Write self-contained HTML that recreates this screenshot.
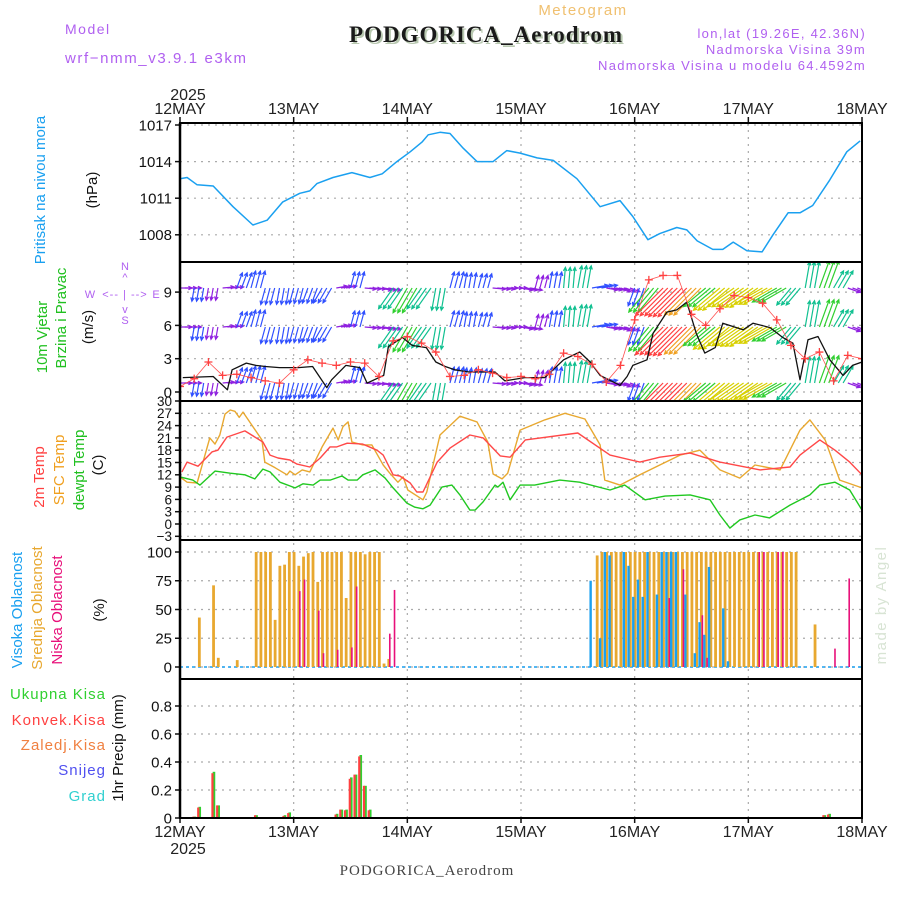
<!DOCTYPE html>
<html><head><meta charset="utf-8"><style>
html,body{margin:0;padding:0;background:#fff;}
svg{display:block;font-family:"Liberation Sans",sans-serif;}
</style></head><body>
<svg id="chart" width="900" height="900" viewBox="0 0 900 900" xmlns="http://www.w3.org/2000/svg">
<rect x="0" y="0" width="900" height="900" fill="#fff"/>
<text x="65" y="34" fill="#b060f0" font-size="14" letter-spacing="1.5">Model</text>
<text x="65" y="63" fill="#b060f0" font-size="15" letter-spacing="1.6">wrf−nmm_v3.9.1 e3km</text>
<text x="583" y="15" fill="#f0c070" font-size="15" letter-spacing="1.5" text-anchor="middle">Meteogram</text>
<text x="488" y="44" fill="#b8c8b0" font-size="23" font-weight="bold" font-family="Liberation Serif,serif" text-anchor="middle" letter-spacing="1">PODGORICA_Aerodrom</text>
<text x="486" y="42" fill="#1a1a1a" font-size="23" font-weight="bold" font-family="Liberation Serif,serif" text-anchor="middle" letter-spacing="1">PODGORICA_Aerodrom</text>
<text x="866" y="38" fill="#b060f0" font-size="13" letter-spacing="1.3" text-anchor="end">lon,lat (19.26E, 42.36N)</text>
<text x="866" y="54" fill="#b060f0" font-size="13" letter-spacing="1.3" text-anchor="end">Nadmorska Visina 39m</text>
<text x="866" y="70" fill="#b060f0" font-size="13" letter-spacing="1.3" text-anchor="end">Nadmorska Visina u modelu 64.4592m</text>
<text x="188" y="100" fill="#222" font-size="16" text-anchor="middle">2025</text>
<text x="188" y="854" fill="#222" font-size="16" text-anchor="middle">2025</text>
<text x="427" y="875" fill="#444" font-size="15" font-family="Liberation Serif,serif" text-anchor="middle" letter-spacing="1">PODGORICA_Aerodrom</text>
<text transform="translate(886,605) rotate(-90)" fill="#d8e4d4" font-size="15" text-anchor="middle" letter-spacing="1.5">made by Angel</text>

<text transform="translate(45,190) rotate(-90)" fill="#1aa0f0" font-size="15" text-anchor="middle">Pritisak na nivou mora</text>
<text transform="translate(97,190) rotate(-90)" fill="#111" font-size="15" text-anchor="middle">(hPa)</text>
<text transform="translate(47,337) rotate(-90)" fill="#20c020" font-size="15" text-anchor="middle">10m Vjetar</text>
<text transform="translate(66,318) rotate(-90)" fill="#20c020" font-size="15" text-anchor="middle">Brzina i Pravac</text>
<text transform="translate(93,327) rotate(-90)" fill="#111" font-size="15" text-anchor="middle">(m/s)</text>
<g fill="#b060f0" font-size="11">
<text x="125" y="270" text-anchor="middle">N</text><text x="125" y="281" text-anchor="middle">^</text>
<text x="90" y="298" text-anchor="middle">W</text><text x="125" y="298" text-anchor="middle" letter-spacing="1">&lt;-- | --&gt;</text><text x="156" y="298" text-anchor="middle">E</text>
<text x="125" y="313" text-anchor="middle">v</text><text x="125" y="324" text-anchor="middle">S</text>
</g>
<text transform="translate(44,477) rotate(-90)" fill="#ff4040" font-size="15" text-anchor="middle">2m Temp</text>
<text transform="translate(64,470) rotate(-90)" fill="#f0a020" font-size="15" text-anchor="middle">SFC Temp</text>
<text transform="translate(84,470) rotate(-90)" fill="#20c020" font-size="15" text-anchor="middle">dewpt Temp</text>
<text transform="translate(103,465) rotate(-90)" fill="#111" font-size="15" text-anchor="middle">(C)</text>
<text transform="translate(22,610) rotate(-90)" fill="#1aa0f0" font-size="15" text-anchor="middle">Visoka Oblacnost</text>
<text transform="translate(42,608) rotate(-90)" fill="#e8a830" font-size="15" text-anchor="middle">Srednja Oblacnost</text>
<text transform="translate(62,610) rotate(-90)" fill="#e8107a" font-size="15" text-anchor="middle">Niska Oblacnost</text>
<text transform="translate(104,610) rotate(-90)" fill="#111" font-size="15" text-anchor="middle">(%)</text>
<text transform="translate(123,748) rotate(-90)" fill="#111" font-size="15" text-anchor="middle">1hr Precip (mm)</text>
<g font-size="15" text-anchor="end" letter-spacing="1">
<text x="106" y="699" fill="#30d030">Ukupna Kisa</text>
<text x="106" y="725" fill="#ff4040">Konvek.Kisa</text>
<text x="106" y="750" fill="#f08040">Zaledj.Kisa</text>
<text x="106" y="775" fill="#5050f0">Snijeg</text>
<text x="106" y="801" fill="#30d0d0">Grad</text>
</g>
<g id="plot"></g>
</svg>
<script>
// ---------- data ----------
const dayLabels = ["12MAY","13MAY","14MAY","15MAY","16MAY","17MAY","18MAY"];
const presTicks = [1008,1011,1014,1017];
const windTicks = [0,3,6,9];
const tempTicks = [-3,0,3,6,9,12,15,18,21,24,27,30];
const cloudTicks = [0,25,50,75,100];
const precTicks = [0,0.2,0.4,0.6,0.8];

const presHours = [0,1.5,3.6,7,11.2,15.4,18.4,21.7,25.3,27.4,28.9,32.3,36.3,40.1,42.7,45.8,48.6,51.1,52.4,54.9,57,59.8,62.7,66.1,69,71.8,75.4,78.8,83.8,88.7,92.9,95.6,98.8,101.3,104.9,107,109.2,112.5,114.6,116.8,119.7,122.9,125.2,128.4,130.9,133.6,137.2,140.8,143.6];
const presVals = [1012.6,1012.7,1012.1,1012,1010.3,1008.8,1009.2,1010.7,1011.4,1011.6,1012.2,1012.7,1013.1,1012.7,1013.0,1014.0,1014.8,1015.6,1016.2,1016.4,1016.3,1015.1,1014,1014,1014.9,1014.7,1014.3,1014.1,1012.6,1010.3,1010.8,1009.5,1007.6,1008.1,1008.6,1008.4,1007.5,1006.8,1006.8,1007.4,1006.7,1006.6,1008,1009.8,1009.8,1010.4,1012.5,1014.8,1015.7];

const t2Hours = [0.4,1.5,3.8,6.8,8,9.9,13.7,17.5,19,20.7,23.2,24.7,27.4,29.6,31.7,33.1,35.3,38.6,41.6,42.9,45,46.4,48.6,50,51.3,54.3,57,61.2,64,67.6,69.7,72.9,84,90.8,97.1,101.3,107.7,114,122.5,128.8,130.9,135.1,138.3,141.4,144];
const t2Vals = [12.7,15.1,14.1,17.6,18,21.2,22.7,20,16.8,16.1,15.6,14.6,13.9,16.1,18.8,18.8,19.7,19.5,18,16.8,12,11.7,10,7.8,7.8,15.1,18.5,21.7,21,16.6,16.3,20.5,22.2,16.8,15.1,16.3,17.3,15.1,13.2,13.9,16.8,20.5,18,15.1,12];
const sfcHours = [0,1.5,3.6,6.3,7.4,8.4,9.5,10.6,11.6,12.5,13.3,17.3,17.9,20.1,22.6,23.2,24.3,25.8,27.4,30,32.3,33.4,34.4,35.5,36.3,38.6,40.5,42.9,44.3,46,47.1,48.1,51.3,52.1,54.9,59.1,62.7,65,66.1,68,69.2,71.8,77,81.3,85.5,88.7,89.7,92.9,97.1,101.3,105.6,109.8,114,118.2,121.4,126.7,130.9,133,136.2,139.3,144];
const sfcVals = [11.5,10.2,10,21,19.5,21.7,26.8,27.8,27.5,26,27.3,20.5,15.1,13.7,12,12.9,12,13.2,12.7,18.8,23.4,20.5,23.7,24.9,20,19.3,19.3,14.4,12.4,10.2,11.5,8.3,5.9,7.8,21.7,26.3,24.9,20,12.2,11,12.4,22.9,25.4,27,25.6,19.3,10.7,9.5,12,14.4,16.8,18,13.2,11.2,14.4,13.2,22.9,25.4,20.5,10.7,8.8];
const dewHours = [0,2.7,4.2,7.4,10.6,13.7,15.8,17.5,19,21.1,24.3,26,28.1,29.6,31.7,34.2,35.5,37.4,38.6,41.2,43.3,45,47.9,49.6,51.3,52.8,55.3,57.4,59.1,61.2,62.3,64,66.5,67.1,68.2,69.7,71.8,74.9,80.2,84.4,90.8,93.9,98.2,102.4,107.7,111.9,114,116.1,118.2,121.4,124.5,128.8,133,135.1,138.3,141.4,144];
const dewVals = [11.5,10.7,9.5,12.9,12.4,12,11,13.4,12.7,10.2,8.8,9.8,9.5,10.7,10.7,11.7,10.7,10.7,12,13.2,11.2,8.8,5.1,4.1,3.7,4.6,9,9.5,7.1,3.4,3.4,5.4,9.5,9,10.2,5.9,9.5,9.5,10.7,10.2,8.3,9.5,5.9,6.8,7.1,5.9,2.2,-1,1,2.2,1.5,4.6,7.1,9.5,10.2,8.3,3.4];

const wsHours = [0.6,7,10,11,14,16,18,21,25,28,31,32,35,38,39.5,43,44,47,49,52,54,56,58,61,66.5,68.6,72.8,77,81,84.4,86.6,88.7,92.9,94.4,95.6,98.6,99.9,102.8,104.9,107,109,110.8,113,114.6,118.9,121,124.6,127.3,129.4,130.9,132.6,134.7,137.2,140,142,144];
const wsVals = [1.3,1.4,0.2,2,2.6,2.4,2.3,2.2,2.2,2.3,0.4,1.1,2.4,2.2,0.8,1.5,4.1,4.9,4.2,4,2.7,2.3,2,1.8,1.8,1,1.3,1.3,2.9,3.6,2.7,1.5,0.6,1.4,2.4,2.9,5.3,7.2,7.4,8.1,5.3,3.5,4,6.2,5.6,6.2,5.8,4.9,4.4,1.1,4.7,5,2.9,1.5,2.4,2.7];
// 3-hourly gust, arrow direction (deg, pointing) and arrow speed
const gustVals = [0.5,1.2,2.7,1.5,1.6,1.3,1.0,0.8,2.0,2.9,2.6,2.4,2.7,2.6,1.4,4.6,5.0,4.4,3.6,1.4,1.5,2.0,1.7,1.3,1.4,1.2,1.6,3.5,3.2,2.5,0.9,2.4,6.5,10.1,10.5,10.5,7.0,6.0,7.5,8.7,8.5,8.0,6.5,4.2,3.0,3.6,1.0,3.3,3.0];
const arrowDir = [90,190,190,85,20,15,195,190,195,200,210,80,15,95,100,215,210,215,190,15,10,15,95,90,100,15,10,5,10,80,100,110,200,220,225,225,225,230,230,235,235,240,240,220,10,20,30,110,120];
const arrowSpd = [1.3,1.6,1.4,1.2,2.2,2.5,2.4,2.3,2.2,2.2,2.4,1.1,2.3,1.2,1.5,4.2,4.9,4.2,3.6,2.3,2.0,1.9,1.5,1.1,1.3,1.5,2.2,3.2,3.6,2.2,1.2,1.0,2.8,5.5,7.2,7.5,7.0,5.0,6.2,5.8,6.0,5.8,4.8,3.5,4.5,5.0,3.0,1.5,1.8];

const midHours = [4,7,8,12,16,17,18,19,20,21,22,23,24,25,26,27,28,29,30,31,32,33,34,35,36,37,38,39,40,41,42,43,44,88,89,90,91,92,93,94,95,96,97,98,99,100,101,102,103,104,105,106,107,108,109,110,111,112,113,114,115,116,117,118,119,120,121,122,123,124,125,126,127,128,129,130,134];
const midVals = [43,71,8,6,100,100,100,100,41,88,89,100,100,88,96,99,100,74,100,100,100,100,100,60,100,100,100,98,100,100,100,3,7,97,100,100,100,100,100,100,100,100,100,100,100,100,100,100,100,100,100,100,100,100,100,100,100,100,100,100,100,100,100,100,100,100,100,100,100,100,100,100,100,100,100,100,37];
const highHours = [87,89,90,91,94,95,96,97,98,99,101,102,103,104,105,107,109,110,111,112,115,116];
const highVals = [75,25,100,97,100,88,61,76,61,100,63,100,100,100,100,63,12,39,28,87,51,5];
const lowHours = [25,26,29,30,33,36,37,44,45,103,106,110,111,122,123,126,127,138,141];
const lowVals = [66,76,49,12,15,17,70,29,67,60,85,45,8,100,100,100,100,16,77];

const precHours = [3,4,7,8,16,22,23,33,34,35,36,37,38,39,40,136,137];
const precTotal = [0.01,0.08,0.33,0.09,0.02,0.02,0.04,0.03,0.06,0.06,0.29,0.31,0.45,0.23,0.06,0.02,0.03];
const precConv = [0.01,0.075,0.32,0.09,0.02,0.015,0.035,0.025,0.06,0.055,0.28,0.31,0.44,0.23,0.055,0.02,0.025];

// ---------- scales ----------
const X0 = 180, X1 = 862;
const xh = h => X0 + h * (X1 - X0) / 144;
const yP = p => 125 + (1017 - p) * 12.2;
const yW = v => 392 - v * 11.1;
const yT = t => 524 - t * 4.1;
const yC = c => 667 - c * 1.15;
const yR = r => 818 - r * 140;
const panels = [[123,262],[262,401],[401,540],[540,679],[679,818]];

const NS = "http://www.w3.org/2000/svg";
const plot = document.getElementById("plot");
function mk(tag, attrs, parent) {
  const e = document.createElementNS(NS, tag);
  for (const k in attrs) e.setAttribute(k, attrs[k]);
  (parent || plot).appendChild(e);
  return e;
}

const defs = mk("defs", {});
const cp = mk("clipPath", {id: "windClip"}, defs);
mk("rect", {x: X0, y: 263, width: X1 - X0, height: 137}, cp);

// grid
const grid = mk("g", {stroke: "#aaa", "stroke-width": 1.2, "stroke-dasharray": "2,5"});


for (let d = 1; d < 6; d++) {
  const gx = xh(d * 24);
  const v = mk("line", {x1: gx, x2: gx, y1: 123, y2: 818}, grid);
  
  
}
function hgrid(vals, f) {
  vals.forEach(v => {
    const l = mk("line", {x1: X0, x2: X1, y1: f(v), y2: f(v)}, grid);
    
    
  });
}
hgrid(presTicks, yP); hgrid(windTicks, yW); hgrid(tempTicks, yT); hgrid(cloudTicks, yC); hgrid(precTicks, yR);

function yticks(vals, f, fs, name) {
  vals.forEach(v => {
    const t = mk("text", {x: 172, y: f(v) + fs * 0.36, "text-anchor": "end", "font-size": fs, fill: "#111"});
    t.textContent = (name === 'precip' && v !== 0) ? v.toFixed(1) : (v < 0 ? "−" + (-v) : String(v));
    
    
    const tk = mk("line", {x1: 175, x2: 180, y1: f(v), y2: f(v), stroke: "#111", "stroke-width": 1.5});
    
    
  });
}
yticks(presTicks, yP, 15, 'pressure');
yticks(windTicks, yW, 15, 'wind');
yticks(tempTicks, yT, 13.5, 'temp');
yticks(cloudTicks, yC, 15, 'cloud');
yticks(precTicks, yR, 15, 'precip');

dayLabels.forEach((lab, i) => {
  const dx = xh(i * 24);
  const a = mk("text", {x: dx, y: 114, "text-anchor": "middle", "font-size": 16, fill: "#222"});
  a.textContent = lab;
  
  
  const b = mk("text", {x: dx, y: 837, "text-anchor": "middle", "font-size": 16, fill: "#222"});
  b.textContent = lab;
  
  
  const t1 = mk("line", {x1: dx, x2: dx, y1: 117, y2: 123, stroke: "#111", "stroke-width": 1.5});
  
  
  const t2 = mk("line", {x1: dx, x2: dx, y1: 818, y2: 823, stroke: "#111", "stroke-width": 1.5});
  
  
});

function line(hs, vs, f, color, name, w) {
  const pts = hs.map((h, i) => xh(h).toFixed(1) + "," + f(vs[i]).toFixed(1)).join(" ");
  const p = mk("polyline", {points: pts, fill: "none", stroke: color, "stroke-width": w || 1.4, "stroke-linejoin": "round"});
  
  
  return p;
}

line(presHours, presVals, yP, "#1aa0f0", "pressure-line", 1.5);

// wind arrows
const wg = mk("g", {"clip-path": "url(#windClip)"});


function wcolor(s) {
  if (s < 1.6) return "#9020e0";
  if (s < 3) return "#3050ff";
  if (s < 4.6) return "#10c090";
  if (s < 5.6) return "#30d030";
  if (s < 6.4) return "#d8d000";
  if (s < 7.2) return "#f0a020";
  return "#ff4040";
}
const rowBase = [288, 327, 383];
arrowDir.forEach((dir, i) => {
  const spd = arrowSpd[i];
  const L = 6 + spd * 4.6;
  const th = dir * Math.PI / 180;
  const c = wcolor(spd);
  for (let k = 0; k < 3; k++) {
    const h = i * 3 + k;
    if (h > 144) break;
    rowBase.forEach(by => {
      const x0 = xh(h), y0 = by;
      const x1 = x0 + L * Math.sin(th), y1 = y0 - L * Math.cos(th);
      const ha = 4;
      const a1 = th + Math.PI - 0.45, a2 = th + Math.PI + 0.45;
      const d = `M${x0.toFixed(1)},${y0}L${x1.toFixed(1)},${y1.toFixed(1)}M${(x1 + ha * Math.sin(a1)).toFixed(1)},${(y1 - ha * Math.cos(a1)).toFixed(1)}L${x1.toFixed(1)},${y1.toFixed(1)}L${(x1 + ha * Math.sin(a2)).toFixed(1)},${(y1 - ha * Math.cos(a2)).toFixed(1)}`;
      const ar = mk("path", {d: d, stroke: c, "stroke-width": 1.2, fill: "none"}, wg);
      
      
    });
  }
});
const ws = line(wsHours, wsVals, yW, "#111", "wind-speed-line", 1.3);
ws.setAttribute("clip-path", "url(#windClip)");
const gustHours = gustVals.map((v, i) => i * 3);
const gl = line(gustHours, gustVals, yW, "#ff5050", "wind-gust-line", 0.8);
gl.setAttribute("clip-path", "url(#windClip)");
gustVals.forEach((g, i) => {
  const gx = xh(i * 3), gy = yW(g);
  const cr = mk("path", {d: `M${gx - 4},${gy}H${gx + 4}M${gx},${gy - 4}V${gy + 4}`, stroke: "#ff4040", "stroke-width": 1.3, "clip-path": "url(#windClip)"});
  
  
});

line(sfcHours, sfcVals, yT, "#e8a830", "sfc-temp-line", 1.4);
line(t2Hours, t2Vals, yT, "#ff4848", "temp-2m-line", 1.4);
line(dewHours, dewVals, yT, "#20c820", "dewpoint-line", 1.4);

const zl = mk("line", {x1: X0, x2: X1, y1: yC(0), y2: yC(0), stroke: "#1aa0f0", "stroke-width": 1.5, "stroke-dasharray": "3,3"});


function bars(hs, vs, f, color, off, w, name) {
  hs.forEach((h, i) => {
    const y = f(vs[i]);
    const b = mk("rect", {x: xh(h) + off, y: y, width: w, height: f(0) - y, fill: color});
    
    
  });
}
bars(midHours, midVals, yC, "#e8a830", -1, 2.8, "mid-cloud-bar");
bars(highHours, highVals, yC, "#1aa0f0", -2.6, 2.4, "high-cloud-bar");
bars(lowHours, lowVals, yC, "#e8107a", 0.6, 1.6, "low-cloud-bar");

bars(precHours, precTotal, yR, "#30d030", -0.5, 2.6, "total-precip-bar");
bars(precHours, precConv, yR, "#ff4040", -1.8, 2.2, "convective-precip-bar");

panels.forEach((p, i) => {
  const r = mk("rect", {x: X0, y: p[0], width: X1 - X0, height: p[1] - p[0], fill: "none", stroke: "#000", "stroke-width": 2});
  
  
});
const la = mk("line", {x1: X0, x2: X0, y1: 123, y2: 818, stroke: "#000", "stroke-width": 2.5});


</script>
</body></html>
